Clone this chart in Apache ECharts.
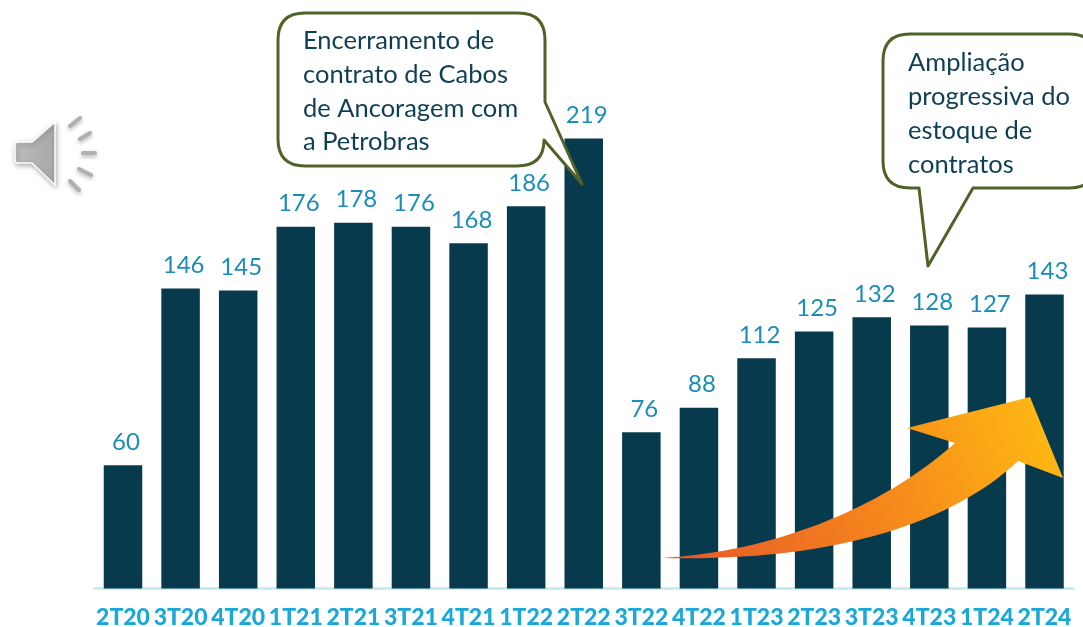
<!DOCTYPE html>
<html><head><meta charset="utf-8">
<style>html,body{margin:0;padding:0;background:#fff}#c{width:1083px;height:627px}</style>
<script src="https://cdn.jsdelivr.net/npm/echarts@6/dist/echarts.min.js"></script>
</head><body><div id="c"></div>
<script>
const categories = ['2T20','3T20','4T20','1T21','2T21','3T21','4T21','1T22','2T22','3T22','4T22','1T23','2T23','3T23','4T23','1T24','2T24'];
const values = [60,146,145,176,178,176,168,186,219,76,88,112,125,132,128,127,143];
const note1 = ['Encerramento de','contrato de Cabos','de Ancoragem com','a Petrobras'];
const note2 = ['Ampliação','progressiva do','estoque de','contratos'];

const FONT = 'Lato';
const GREEN = '#4F6228', INK = '#0E3E54';

const shapes = {
  callout1:'M305,13 H518 Q545,13 545,40 V102 L582,184 L544,140 Q544,166 517,166 H305 Q278,166 278,139 V40 Q278,13 305,13 Z',
  callout2:'M910,34 H1069 Q1096,34 1096,61 V161 Q1096,188 1069,188 H973 L928,266 L919,188 H910 Q883,188 883,161 V61 Q883,34 910,34 Z',
  arrow:'M662,558 C770,552 880,510 955,443 L907,428 L1030,397 L1063,478 L1018,461 C950,525 830,562 662,558 Z',
  speaker:'M18,142 H32 L55,122 V185 L32,163 H18 Q15,163 15,160 V145 Q15,142 18,142 Z'
};
Object.keys(shapes).forEach(k=>echarts.graphic.registerShape(k,echarts.graphic.extendPath(shapes[k],{})));

function noteLines(lines, x, ys){
  return lines.map((t,i)=>({type:'text',z:110,style:{text:t,x,y:ys[i],font:'400 25.5px '+FONT,fill:INK,textBaseline:'middle',verticalAlign:'middle'}}));
}
function ray(x1,y1,x2,y2){
  return {type:'line',z:105,shape:{x1,y1,x2,y2},style:{stroke:'#B0B0B0',lineWidth:4,lineCap:'round',shadowBlur:4,shadowColor:'rgba(0,0,0,0.3)',shadowOffsetY:2}};
}
const chart = echarts.init(document.getElementById('c'),null,{renderer:'canvas'});
chart.setOption({
  animation:false,
  backgroundColor:'#fff',
  grid:{left:94.2,right:9.7,top:13,bottom:38.5,containLabel:false,outerBoundsMode:'none'},
  xAxis:{type:'category',data:categories,
    axisLine:{lineStyle:{color:'#C4E8F7',width:2.5}},axisTick:{show:false},
    axisLabel:{interval:0,margin:18,color:'#1BA8D8',fontFamily:FONT,fontWeight:900,fontSize:23}},
  yAxis:{type:'value',min:0,max:280,show:false,splitLine:{show:false}},
  series:[{type:'bar',data:values,barWidth:38.5,itemStyle:{color:'#083A4E'},
    label:{show:true,position:'top',distance:11,offset:[3,0],color:'#1B8DB6',fontFamily:FONT,fontWeight:400,fontSize:24}}],
  graphic:{elements:[
    {type:'callout1',z:100,style:{fill:'#fff',stroke:GREEN,lineWidth:3,lineJoin:'round'}},
    {type:'callout2',z:100,style:{fill:'#fff',stroke:GREEN,lineWidth:3,lineJoin:'round'}},
    ...noteLines(note1,303,[41,75,109,142]),
    ...noteLines(note2,908,[63,97,131,165]),
    {type:'arrow',z:102,style:{fill:new echarts.graphic.LinearGradient(0,1,1,0,[{offset:0,color:'#E4562C'},{offset:0.5,color:'#F5851C'},{offset:1,color:'#FFBE12'}])}},
    {type:'speaker',z:105,style:{fill:new echarts.graphic.LinearGradient(0,0,1,0,[{offset:0,color:'#BCBCBC'},{offset:1,color:'#A8A8A8'}]),stroke:'#fff',lineWidth:1.5,shadowBlur:5,shadowColor:'rgba(0,0,0,0.3)',shadowOffsetX:1,shadowOffsetY:2}},
    ray(70,126,80,118),ray(80,139,90,133),ray(83,153,95,153),ray(79,169,91,175),ray(70,181,79,190)
  ]}
});
</script></body></html>
